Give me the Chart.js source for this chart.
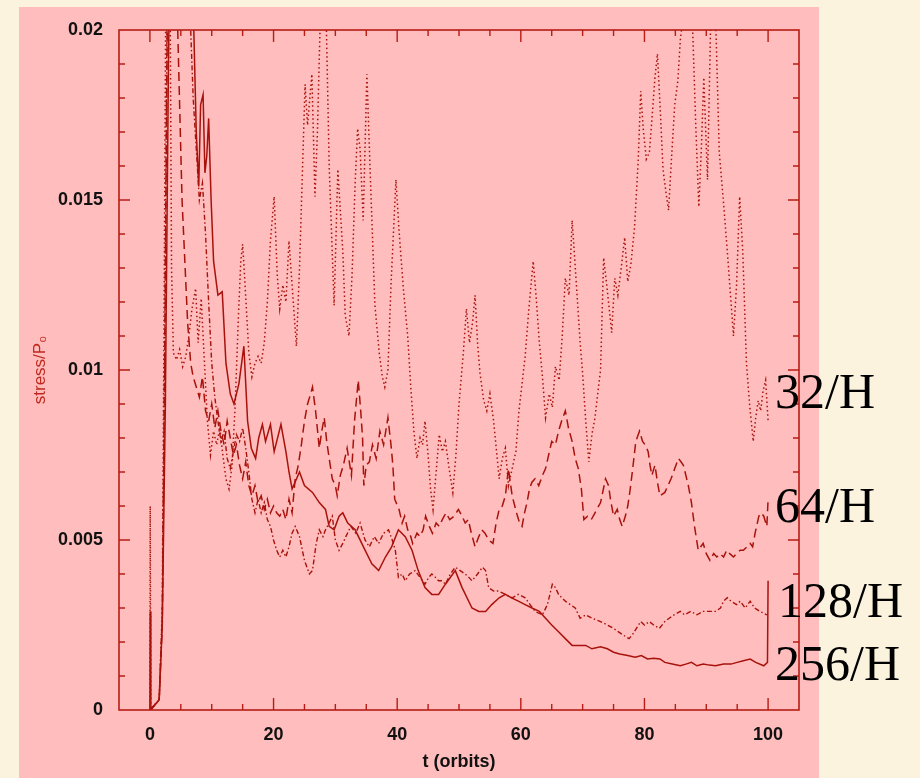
<!DOCTYPE html>
<html>
<head>
<meta charset="utf-8">
<script src="https://cdn.jsdelivr.net/npm/chart.js@4.4.1/dist/chart.umd.min.js"></script>
<style>
  html, body { margin: 0; padding: 0; overflow: hidden; background: #fcf3df; }
  canvas { display: block; }
</style>
</head>
<body>
<canvas id="stress" width="920" height="778"></canvas>
<script>
// stress history for each resolution, [t (orbits), stress/P0]
const res32 = [[0,0],[0.05,0.006],[0.15,0],[1.5,0.0003],[2,0.003],[2.3,0.012],[2.6,0.022],[3,0.025],[3.3,0.02],[3.5,0.013],[3.8,0.0105],[4.3,0.0103],[4.8,0.0106],[5.3,0.0101],[5.8,0.0104],[6.3,0.011],[6.8,0.0118],[7.4,0.0124],[7.8,0.0108],[8.3,0.0121],[8.8,0.0103],[9.3,0.0085],[9.8,0.0075],[10.3,0.0082],[10.8,0.0078],[11.3,0.0083],[11.8,0.0075],[12.3,0.0068],[12.8,0.0065],[13.3,0.0072],[13.8,0.009],[14.3,0.0115],[14.7,0.0132],[15,0.0137],[15.3,0.0128],[15.7,0.0115],[16,0.0105],[16.5,0.0098],[17,0.0102],[17.5,0.0104],[18,0.0102],[18.5,0.0108],[19,0.012],[19.5,0.0138],[20.1,0.0151],[20.6,0.0128],[21,0.0118],[21.5,0.0125],[22,0.012],[22.5,0.0138],[23,0.0125],[23.7,0.0107],[24.2,0.013],[24.7,0.016],[25.1,0.0184],[25.5,0.0172],[26.2,0.0187],[26.7,0.0151],[27.1,0.017],[27.5,0.0199],[28,0.021],[28.5,0.0205],[29,0.016],[29.8,0.0119],[30.4,0.0159],[31.2,0.0135],[31.6,0.0116],[32.2,0.011],[32.7,0.0128],[33.2,0.0155],[33.6,0.0171],[34,0.0165],[34.5,0.0144],[35.1,0.0187],[35.6,0.016],[36.4,0.0119],[37.1,0.0105],[37.6,0.0098],[38,0.0095],[38.5,0.01],[39,0.0125],[39.8,0.0156],[40.3,0.0141],[41,0.0124],[41.7,0.011],[42.2,0.0095],[42.7,0.0082],[43.2,0.0074],[43.7,0.008],[44.1,0.0078],[44.5,0.0085],[45,0.0075],[45.4,0.0065],[45.8,0.0059],[46.3,0.007],[46.8,0.0081],[47.3,0.0076],[47.8,0.0079],[48.4,0.0071],[49,0.0064],[49.5,0.0075],[50,0.009],[50.7,0.0105],[51.2,0.0118],[51.7,0.0108],[52.2,0.0114],[52.6,0.0122],[53,0.0108],[53.4,0.0099],[54,0.0091],[54.5,0.0088],[55,0.0093],[55.6,0.0085],[56.5,0.0068],[57,0.0074],[57.5,0.0077],[58,0.0066],[58.6,0.0071],[59.2,0.0076],[59.7,0.0088],[60.2,0.0096],[60.7,0.0104],[61.3,0.0118],[62,0.0132],[62.5,0.0121],[63,0.0108],[63.5,0.0098],[64,0.0086],[64.6,0.0093],[65.1,0.0089],[65.6,0.0101],[66.2,0.0097],[66.7,0.011],[67.2,0.0127],[67.8,0.0122],[68.3,0.0144],[68.6,0.0136],[69.1,0.0122],[69.6,0.0108],[70,0.0099],[70.5,0.0085],[71,0.0073],[71.5,0.0081],[72,0.0086],[72.5,0.0094],[72.9,0.01],[73.4,0.0133],[73.9,0.0125],[74.3,0.0118],[74.7,0.0111],[75.2,0.0127],[75.7,0.0122],[76.3,0.0131],[76.8,0.0139],[77.3,0.0126],[77.8,0.0131],[78.4,0.0142],[79,0.0162],[79.4,0.0182],[79.8,0.0171],[80.3,0.0162],[80.8,0.0164],[81.3,0.0176],[81.7,0.0186],[82.1,0.0193],[82.6,0.0175],[83,0.0159],[83.5,0.0152],[83.9,0.0147],[84.4,0.0163],[84.9,0.0178],[85.4,0.0185],[85.8,0.0197],[86.3,0.0205],[86.8,0.021],[87.3,0.0205],[87.8,0.02],[88.3,0.0172],[88.8,0.0148],[89.2,0.0165],[89.6,0.0186],[90.2,0.0156],[90.7,0.0201],[91.2,0.021],[91.6,0.0198],[92.1,0.0164],[92.8,0.0149],[93.4,0.0135],[94,0.012],[94.4,0.011],[94.9,0.0125],[95.4,0.0151],[95.9,0.0135],[96.5,0.0102],[97,0.009],[97.6,0.0079],[98,0.0086],[98.4,0.0091],[98.8,0.0088],[99.2,0.0094],[99.6,0.0097],[100,0.0085]];

const res64 = [[0,0],[1.5,0.0003],[2,0.0025],[2.4,0.01],[2.8,0.02],[3.2,0.026],[4,0.024],[4.5,0.02],[5.2,0.015],[6.1,0.0114],[6.6,0.0102],[7,0.0098],[7.5,0.0095],[8,0.0092],[8.5,0.0098],[9,0.0088],[9.5,0.0085],[10,0.009],[10.5,0.0083],[11,0.0088],[11.5,0.0082],[12,0.0078],[12.5,0.0085],[13,0.008],[13.5,0.0075],[14,0.0078],[14.5,0.0072],[15,0.0068],[15.5,0.0073],[16,0.0066],[16.5,0.0063],[17,0.0066],[17.5,0.0061],[18,0.0063],[18.5,0.0059],[19,0.0062],[19.5,0.0058],[20,0.006],[20.5,0.0058],[21,0.0057],[21.5,0.0059],[22,0.0056],[22.5,0.0062],[23,0.0058],[23.5,0.0068],[24,0.0072],[24.5,0.0078],[25,0.0085],[25.5,0.009],[26,0.0093],[26.3,0.0095],[26.8,0.0088],[27.4,0.0077],[27.8,0.0082],[28.2,0.0086],[28.6,0.0079],[29,0.0074],[29.5,0.0068],[30,0.0066],[30.3,0.0063],[30.8,0.0069],[31.3,0.0072],[31.9,0.0077],[32.6,0.0069],[33.1,0.0085],[33.7,0.0097],[34.1,0.0088],[34.4,0.008],[34.6,0.0066],[35,0.0072],[35.5,0.0073],[36,0.0078],[36.6,0.0074],[37.2,0.0082],[37.8,0.0078],[38.5,0.0086],[39,0.0078],[39.3,0.0072],[39.6,0.0062],[40.3,0.0059],[40.8,0.0055],[41.2,0.0057],[41.7,0.0053],[42.2,0.0051],[42.5,0.0049],[43.2,0.0052],[43.7,0.0051],[44.2,0.0053],[44.6,0.0057],[45.2,0.0054],[45.7,0.0052],[46.3,0.0055],[46.8,0.0054],[47.3,0.0056],[47.9,0.0058],[48.5,0.0056],[49.2,0.0057],[49.9,0.0059],[50.5,0.0057],[51,0.0055],[51.5,0.0056],[52,0.0052],[52.6,0.0048],[53.2,0.0051],[53.7,0.0053],[54.2,0.0052],[54.8,0.005],[55.5,0.0049],[56,0.0055],[56.5,0.0059],[57,0.006],[57.5,0.0063],[58,0.0071],[58.6,0.0063],[59.3,0.0058],[59.8,0.0055],[60.2,0.0054],[60.6,0.0058],[61,0.0061],[61.4,0.0065],[61.8,0.0067],[62.3,0.0068],[62.9,0.0066],[63.5,0.0069],[64,0.0071],[64.5,0.0075],[65,0.0079],[65.6,0.0078],[66.1,0.0082],[66.6,0.0085],[67.2,0.0088],[67.7,0.0083],[68.3,0.0079],[68.8,0.0074],[69.3,0.0071],[69.8,0.0065],[70.2,0.0056],[70.8,0.0057],[71.4,0.0056],[72,0.0058],[72.9,0.0061],[73.7,0.0068],[74.2,0.0066],[74.5,0.0062],[75,0.0057],[75.6,0.0059],[76,0.0056],[76.4,0.0054],[76.9,0.0057],[77.3,0.006],[77.7,0.0065],[78.1,0.0071],[78.6,0.0079],[79.2,0.0082],[79.7,0.0079],[80.1,0.0078],[80.6,0.0076],[80.9,0.0072],[81.2,0.0069],[81.7,0.0072],[82.1,0.0067],[82.5,0.0063],[83.3,0.0064],[83.8,0.0066],[84.3,0.0068],[84.9,0.0071],[85.5,0.0074],[85.9,0.0073],[86.3,0.0072],[86.7,0.0069],[87.1,0.0066],[87.6,0.0061],[88.1,0.0054],[88.7,0.0047],[89.1,0.0048],[89.5,0.0049],[90,0.0046],[90.6,0.0044],[91.2,0.0046],[91.7,0.0045],[92.2,0.0046],[92.8,0.0045],[93.3,0.0047],[93.8,0.0046],[94.4,0.0045],[94.9,0.0046],[95.5,0.0047],[96,0.0047],[96.6,0.0048],[97.1,0.0049],[97.5,0.0048],[97.9,0.0052],[98.5,0.0057],[98.9,0.0058],[99.3,0.0057],[99.8,0.0054],[100,0.0062]];

const res128 = [[0,0],[1.5,0.0003],[2,0.0028],[2.4,0.011],[2.8,0.021],[3.5,0.027],[5,0.025],[6.6,0.02],[7,0.018],[7.5,0.0165],[8,0.015],[8.5,0.0155],[9,0.014],[9.5,0.012],[10,0.0102],[10.5,0.0092],[11,0.0085],[11.5,0.0079],[12,0.0082],[12.5,0.0074],[13,0.0071],[13.5,0.0076],[14,0.0081],[14.5,0.0079],[15,0.0083],[15.5,0.0077],[16,0.007],[16.5,0.0062],[17,0.0058],[17.5,0.0062],[18,0.0058],[18.5,0.0061],[19,0.0056],[19.5,0.0054],[20,0.005],[20.5,0.0047],[21,0.0045],[21.5,0.0047],[22,0.0045],[22.5,0.0048],[23,0.0052],[23.5,0.0054],[24.2,0.0051],[25,0.0044],[25.8,0.004],[26.3,0.0041],[26.9,0.0049],[27.4,0.0053],[28,0.0051],[28.4,0.0053],[29,0.0055],[29.5,0.0057],[30,0.005],[30.6,0.0047],[31.2,0.0049],[31.7,0.0051],[32.5,0.0054],[33.3,0.0052],[34,0.0055],[34.8,0.005],[35.5,0.0048],[36.3,0.0051],[37,0.0049],[37.8,0.0052],[38.6,0.0053],[39.2,0.005],[39.7,0.0047],[40.2,0.0039],[40.8,0.004],[41.3,0.0038],[42,0.004],[42.9,0.0041],[43.7,0.0039],[44.5,0.0037],[45.1,0.0039],[45.6,0.004],[46.2,0.0039],[46.7,0.0038],[47.3,0.0038],[47.8,0.0037],[48.6,0.004],[49.4,0.0042],[50.2,0.0041],[51,0.004],[51.6,0.0039],[52.1,0.0038],[53,0.004],[53.8,0.0042],[54.3,0.0041],[54.8,0.0036],[55.6,0.0035],[56.4,0.0035],[57.5,0.0034],[58.6,0.0033],[59.6,0.0034],[60.7,0.0033],[61.5,0.0031],[62.3,0.0029],[63.5,0.0028],[64.3,0.0031],[65.1,0.0037],[65.6,0.0036],[66.1,0.0034],[67.2,0.0032],[68,0.0031],[68.8,0.003],[69.6,0.0027],[70.5,0.0028],[71.5,0.0027],[72.9,0.0026],[74,0.0025],[75,0.0024],[75.8,0.0023],[76.6,0.0022],[77.5,0.0021],[78,0.0022],[78.7,0.0024],[79.4,0.0026],[80,0.0025],[80.8,0.0026],[81.5,0.0025],[82.4,0.0024],[83.3,0.0026],[84,0.0027],[84.8,0.0028],[85.8,0.0029],[86.5,0.0028],[87.5,0.0029],[88.5,0.0028],[89.5,0.0029],[90.5,0.0029],[91.5,0.0029],[92.3,0.003],[92.8,0.0032],[93.4,0.0033],[94,0.0032],[94.9,0.0031],[95.5,0.0032],[96.3,0.003],[97.1,0.0032],[97.8,0.003],[98.7,0.0029],[99.8,0.0028]];

const res256 = [[0,0],[0.05,0.0029],[0.15,0],[1.5,0.0003],[2,0.0025],[2.5,0.009],[3,0.019],[3.5,0.026],[5,0.03],[6.5,0.024],[7.1,0.02],[7.5,0.017],[7.9,0.0154],[8.2,0.0178],[8.6,0.0181],[8.9,0.0158],[9.2,0.0163],[9.5,0.0174],[9.9,0.015],[10.3,0.0132],[11,0.0122],[11.7,0.0123],[12.3,0.0102],[13,0.0093],[13.6,0.009],[14.4,0.0096],[15.2,0.0107],[15.8,0.0085],[16.4,0.0077],[17.1,0.0074],[17.6,0.008],[18.2,0.0084],[18.7,0.0079],[19.5,0.0084],[20.1,0.0076],[21.2,0.0084],[22,0.0076],[22.5,0.007],[23,0.0065],[24.2,0.007],[25,0.0066],[26.3,0.0064],[27.4,0.0061],[28.4,0.0059],[29,0.0054],[29.8,0.0053],[30.6,0.0057],[31.2,0.0058],[32,0.0055],[33.2,0.0053],[34.8,0.0047],[35.9,0.0043],[37,0.0041],[38.1,0.0045],[39.1,0.0048],[40.2,0.0053],[41.3,0.0051],[42.4,0.0047],[43.4,0.0041],[44.5,0.0036],[45.6,0.0034],[46.7,0.0034],[47.8,0.0037],[49.4,0.0041],[50.5,0.0036],[52.1,0.003],[53.2,0.0029],[54.3,0.0029],[55.3,0.0031],[56.5,0.0033],[57.5,0.0034],[58.5,0.0033],[59.6,0.0032],[60.7,0.0031],[61.8,0.003],[63,0.0029],[64,0.0027],[65,0.0025],[66.1,0.0023],[67.2,0.0021],[68.3,0.0019],[69.5,0.0019],[70.5,0.0019],[71.5,0.0018],[72.9,0.00186],[74,0.0018],[75,0.0017],[76,0.00165],[77.3,0.0016],[78.5,0.00155],[79.5,0.0016],[80.5,0.0015],[81.5,0.00152],[82.5,0.0015],[83.3,0.0014],[84.5,0.00135],[85.8,0.0013],[86.7,0.00135],[87.6,0.0014],[88.5,0.0013],[89.5,0.00135],[90.5,0.00132],[91.5,0.0013],[92.8,0.00135],[94,0.00135],[95,0.0014],[96,0.00145],[97.1,0.0015],[98,0.0014],[99.3,0.0013],[99.9,0.0014],[100,0.0038]];

const seriesLabels = ['32/H', '64/H', '128/H', '256/H'];
const xTickValues = [0, 20, 40, 60, 80, 100];

const RED = '#a8120c';
const AXIS = '#b81c14';
const toPts = arr => arr.map(([x, y]) => ({ x, y }));

// page backdrop: cream page with the pink slide panel
const backdrop = {
  id: 'backdrop',
  beforeDraw(chart) {
    const ctx = chart.ctx;
    ctx.save();
    ctx.fillStyle = '#fcf3df';
    ctx.fillRect(0, 0, chart.width, chart.height);
    ctx.fillStyle = '#ffbdbd';
    ctx.fillRect(19, 7, 800, chart.height - 7);
    ctx.restore();
  }
};

// closed frame with inward ticks on all four sides
const frame = {
  id: 'frame',
  afterDatasetsDraw(chart) {
    const { ctx, chartArea: a, scales: { x, y } } = chart;
    ctx.save();
    ctx.strokeStyle = AXIS;
    ctx.lineWidth = 1.6;
    ctx.strokeRect(a.left, a.top, a.right - a.left, a.bottom - a.top);
    ctx.lineWidth = 1.4;
    ctx.beginPath();
    for (let v = -5; v <= 105; v += 5) {
      const px = x.getPixelForValue(v);
      if (px <= a.left + 1 || px >= a.right - 1) continue;
      const len = v % 20 === 0 ? 12 : 6;
      ctx.moveTo(px, a.bottom); ctx.lineTo(px, a.bottom - len);
      ctx.moveTo(px, a.top); ctx.lineTo(px, a.top + len);
    }
    for (let i = 1; i < 20; i++) {
      const py = y.getPixelForValue(i * 0.001);
      const len = i % 5 === 0 ? 11 : 6;
      ctx.moveTo(a.left, py); ctx.lineTo(a.left + len, py);
      ctx.moveTo(a.right, py); ctx.lineTo(a.right - len, py);
    }
    ctx.stroke();
    ctx.restore();
  }
};

// resolution labels beside the right axis
const resLabels = {
  id: 'resLabels',
  afterDraw(chart) {
    const ctx = chart.ctx;
    const spots = [[775, 408], [775, 522], [778, 617], [775, 680]];
    ctx.save();
    ctx.fillStyle = '#000';
    ctx.font = '50px "Liberation Serif", "Times New Roman", serif';
    ctx.textBaseline = 'alphabetic';
    seriesLabels.forEach((s, i) => ctx.fillText(s, spots[i][0], spots[i][1]));
    ctx.restore();
  }
};

const lineStyle = (label, data, dash, width) => ({
  label,
  data: toPts(data),
  borderColor: RED,
  borderWidth: width,
  borderDash: dash,
  pointRadius: 0,
  tension: 0,
  fill: false
});

const tickFont = { family: '"Liberation Sans", Arial, sans-serif', size: 18, weight: 'bold' };

new Chart(document.getElementById('stress'), {
  type: 'line',
  data: {
    datasets: [
      lineStyle(seriesLabels[0], res32, [1.5, 2.8], 1.5),
      lineStyle(seriesLabels[1], res64, [9, 5], 1.5),
      lineStyle(seriesLabels[2], res128, [5, 2.5, 1.5, 2.5], 1.4),
      lineStyle(seriesLabels[3], res256, [], 1.5)
    ]
  },
  options: {
    responsive: false,
    animation: false,
    devicePixelRatio: 1,
    layout: { padding: { left: 0, top: 30, right: 121, bottom: 0 } },
    plugins: { legend: { display: false }, tooltip: { enabled: false } },
    scales: {
      x: {
        type: 'linear',
        min: -5,
        max: 105,
        grid: { display: false, drawTicks: false },
        border: { display: false },
        afterBuildTicks: s => { s.ticks = xTickValues.map(v => ({ value: v })); },
        afterFit: s => { s.height = 68; },
        ticks: { color: '#111', font: tickFont, padding: 14, maxRotation: 0 },
        title: {
          display: true,
          text: 't (orbits)',
          color: '#111',
          font: { family: tickFont.family, size: 18, weight: 'bold' },
          padding: { top: 0, bottom: 5 }
        }
      },
      y: {
        min: 0,
        max: 0.02,
        grid: { display: false, drawTicks: false },
        border: { display: false },
        afterFit: s => { s.width = 119; },
        ticks: {
          stepSize: 0.005,
          color: '#111',
          font: tickFont,
          padding: 16,
          callback: v => String(+v.toFixed(3))
        },
        title: {
          display: true,
          text: 'stress/P₀',
          color: '#c0281e',
          font: { family: tickFont.family, size: 17 },
          padding: { top: 30, bottom: 0 }
        }
      }
    }
  },
  plugins: [backdrop, frame, resLabels]
});
</script>
</body>
</html>
